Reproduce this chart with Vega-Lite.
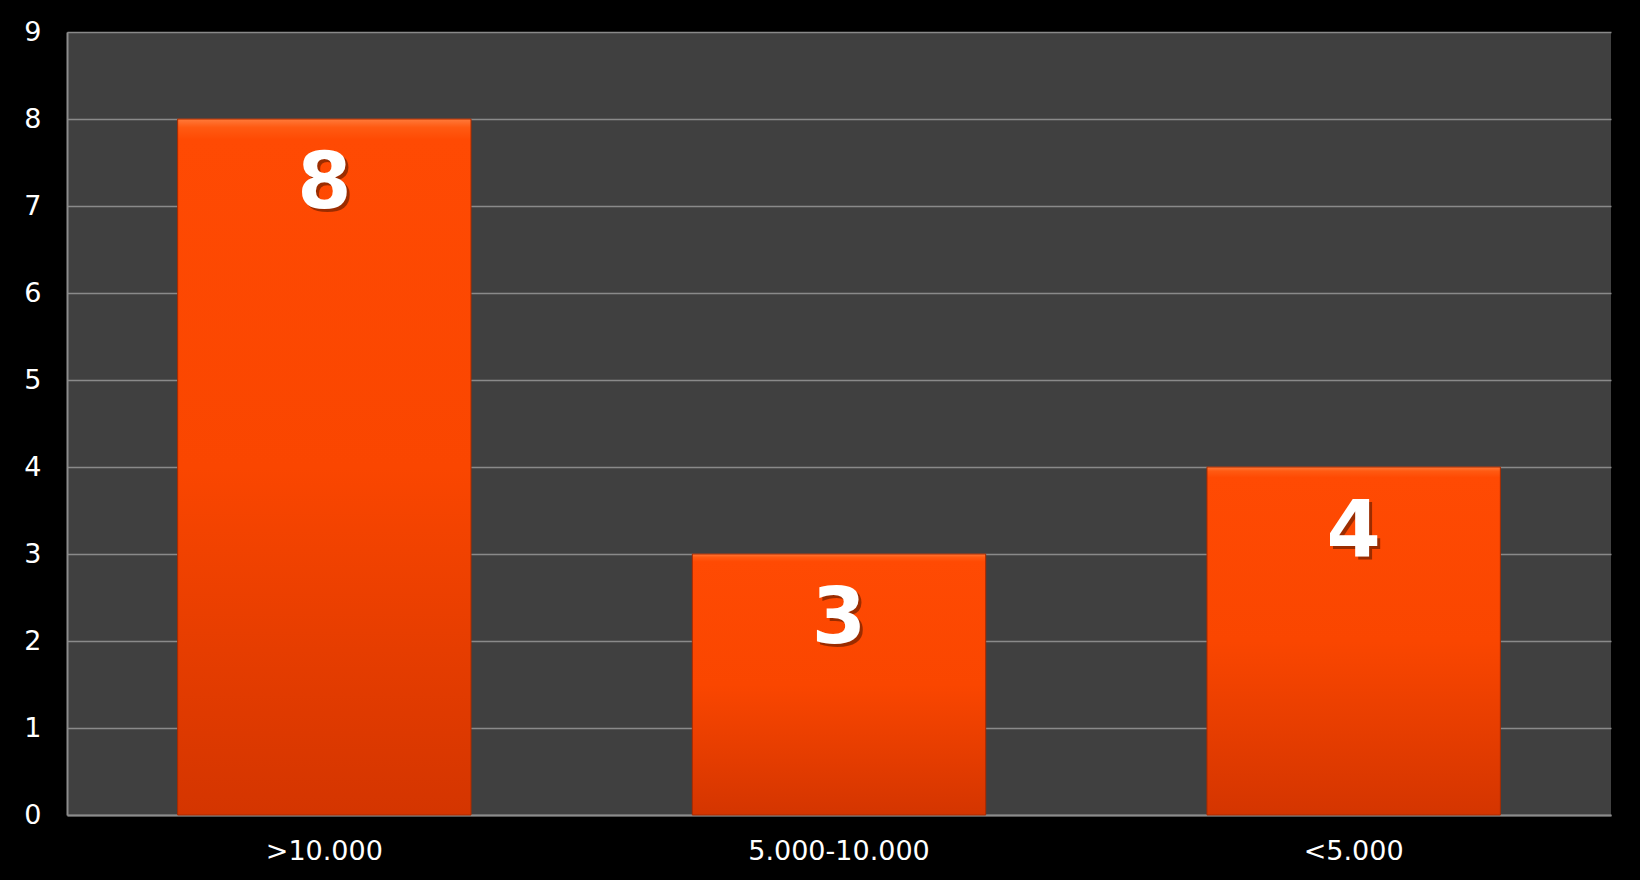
{
  "$schema": "https://vega.github.io/schema/vega-lite/v6.json",
  "width": 1544,
  "height": 783,
  "autosize": "none",
  "padding": {"left": 67, "top": 32, "right": 29, "bottom": 65},
  "background": "#000000",
  "config": {
    "view": {"fill": "#404040", "stroke": null},
    "font": "DejaVu Sans"
  },
  "data": {
    "values": [
      {"category": ">10.000", "value": 8},
      {"category": "5.000-10.000", "value": 3},
      {"category": "<5.000", "value": 4}
    ]
  },
  "encoding": {
    "x": {
      "field": "category",
      "type": "nominal",
      "sort": null,
      "scale": {"paddingInner": 0.43, "paddingOuter": 0.215},
      "axis": {
        "title": null,
        "labelAngle": 0,
        "labelLimit": 0,
        "labelColor": "#ffffff",
        "labelFontSize": 27,
        "labelFont": "DejaVu Sans",
        "labelPadding": 23,
        "ticks": false,
        "domainColor": "#8c8c8c",
        "domainWidth": 2,
        "grid": false
      }
    },
    "y": {
      "field": "value",
      "type": "quantitative",
      "scale": {"domain": [0, 9], "nice": false},
      "axis": {
        "title": null,
        "values": [0, 1, 2, 3, 4, 5, 6, 7, 8, 9],
        "labelColor": "#ffffff",
        "labelFontSize": 27,
        "labelFont": "DejaVu Sans",
        "labelPadding": 26,
        "ticks": false,
        "domainColor": "#8c8c8c",
        "domainWidth": 2,
        "grid": true,
        "gridColor": "#8a8a8a",
        "gridWidth": 1.5
      }
    }
  },
  "layer": [
    {
      "mark": {
        "type": "bar",
        "stroke": "#a82a00",
        "strokeWidth": 1,
        "color": {
          "gradient": "linear",
          "x1": 0, "y1": 0, "x2": 0, "y2": 1,
          "stops": [
            {"offset": 0, "color": "#ff7a3a"},
            {"offset": 0.012, "color": "#ff5a12"},
            {"offset": 0.03, "color": "#ff4a03"},
            {"offset": 0.5, "color": "#fa4600"},
            {"offset": 1, "color": "#d43500"}
          ]
        }
      }
    },
    {
      "mark": {
        "type": "text",
        "baseline": "alphabetic",
        "align": "center",
        "dy": 92,
        "dx": 3,
        "fontSize": 78,
        "fontWeight": "bold",
        "font": "DejaVu Sans",
        "color": "#5a1a00",
        "opacity": 0.6
      },
      "encoding": {"text": {"field": "value", "type": "quantitative"}}
    },
    {
      "mark": {
        "type": "text",
        "baseline": "alphabetic",
        "align": "center",
        "dy": 89,
        "fontSize": 78,
        "fontWeight": "bold",
        "font": "DejaVu Sans",
        "color": "#ffffff"
      },
      "encoding": {"text": {"field": "value", "type": "quantitative"}}
    }
  ]
}
